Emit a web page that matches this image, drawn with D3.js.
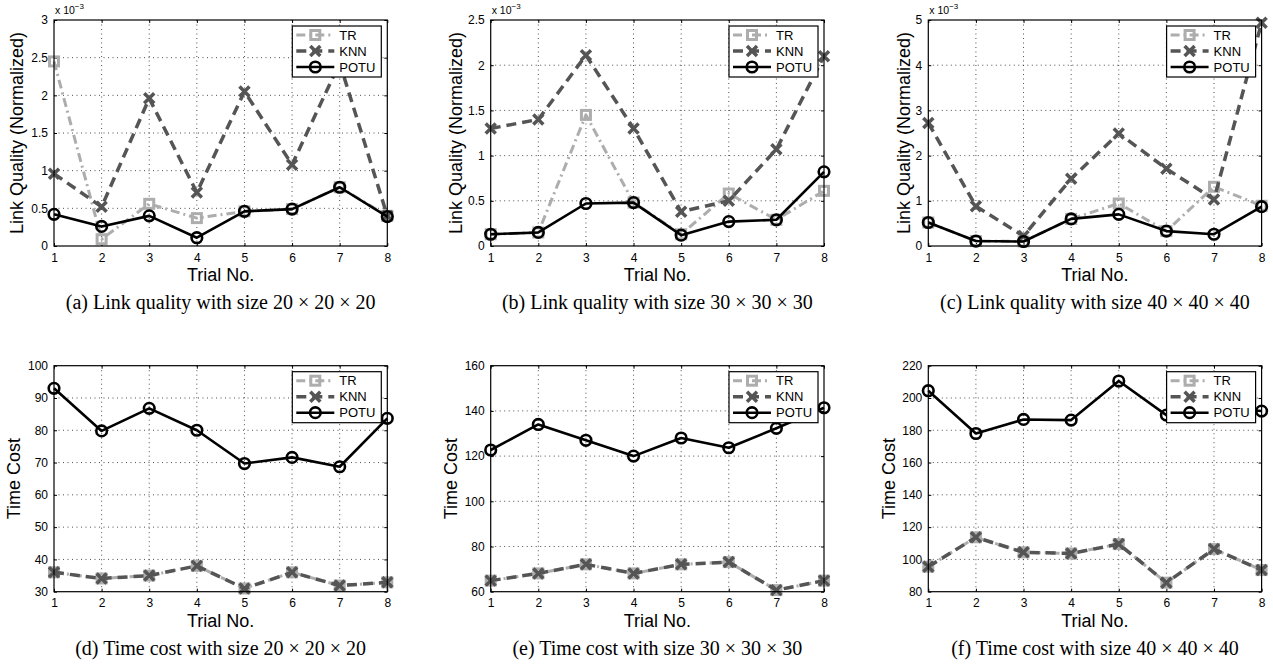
<!DOCTYPE html>
<html>
<head>
<meta charset="utf-8">
<script src="https://cdn.jsdelivr.net/npm/d3@7"></script>
<style>
  body { margin: 0; background: #fff; }
  svg text { font-family: "Liberation Sans", Arial, Helvetica, sans-serif; fill: #000; }
</style>
</head>
<body>
<div id="chart"></div>
<script>
// x values shared by every panel
const trials = [1, 2, 3, 4, 5, 6, 7, 8];
const seriesNames = ['TR', 'KNN', 'POTU'];

// Link quality (normalized), values in units of 1e-3
const lq20TR   = [2.45, 0.09, 0.56, 0.37, 0.46, 0.49, 0.78, 0.40];
const lq20KNN  = [0.96, 0.52, 1.96, 0.71, 2.05, 1.08, 2.43, 0.40];
const lq20POTU = [0.42, 0.26, 0.40, 0.11, 0.46, 0.49, 0.78, 0.39];

const lq30TR   = [0.13, 0.15, 1.45, 0.48, 0.13, 0.58, 0.29, 0.61];
const lq30KNN  = [1.30, 1.40, 2.11, 1.30, 0.38, 0.50, 1.07, 2.10];
const lq30POTU = [0.13, 0.15, 0.47, 0.48, 0.12, 0.27, 0.29, 0.82];

const lq40TR   = [0.52, 0.11, 0.10, 0.60, 0.94, 0.33, 1.31, 0.89];
const lq40KNN  = [2.72, 0.88, 0.22, 1.49, 2.49, 1.71, 1.03, 4.94];
const lq40POTU = [0.52, 0.11, 0.10, 0.60, 0.70, 0.33, 0.26, 0.87];

// Time cost
const tc20TR   = [36, 34.1, 35, 38, 31, 36, 31.9, 32.9];
const tc20KNN  = [36, 34.1, 35, 38, 31, 36, 31.9, 32.9];
const tc20POTU = [93, 79.8, 86.8, 80, 69.7, 71.6, 68.7, 83.7];

const tc30TR   = [64.9, 68.1, 72.1, 68.1, 72.1, 73.1, 60.7, 64.9];
const tc30KNN  = [64.9, 68.1, 72.1, 68.1, 72.1, 73.1, 60.7, 64.9];
const tc30POTU = [122.7, 134, 127, 120, 128, 123.7, 132.3, 141.4];

const tc40TR   = [95.5, 113.7, 104.4, 103.7, 109.5, 85.6, 106.4, 93.4];
const tc40KNN  = [95.5, 113.7, 104.4, 103.7, 109.5, 85.6, 106.4, 93.4];
const tc40POTU = [204.5, 178, 186.7, 186.3, 210.5, 189.4, 194, 191.9];

// y tick labels per panel
const lq20Ticks = [0, 0.5, 1, 1.5, 2, 2.5, 3];
const lq30Ticks = [0, 0.5, 1, 1.5, 2, 2.5];
const lq40Ticks = [0, 1, 2, 3, 4, 5];
const tc20Ticks = [30, 40, 50, 60, 70, 80, 90, 100];
const tc30Ticks = [60, 80, 100, 120, 140, 160];
const tc40Ticks = [80, 100, 120, 140, 160, 180, 200, 220];

const captions = [
    '(a) Link quality with size 20 \u00d7 20 \u00d7 20',
    '(b) Link quality with size 30 \u00d7 30 \u00d7 30',
    '(c) Link quality with size 40 \u00d7 40 \u00d7 40',
    '(d) Time cost with size 20 \u00d7 20 \u00d7 20',
    '(e) Time cost with size 30 \u00d7 30 \u00d7 30',
    '(f) Time cost with size 40 \u00d7 40 \u00d7 40'
];

const panels = [
    {series: [lq20TR, lq20KNN, lq20POTU], ticks: lq20Ticks, label: 'Link Quality (Normalized)', exp: true, labelGap: 37},
    {series: [lq30TR, lq30KNN, lq30POTU], ticks: lq30Ticks, label: 'Link Quality (Normalized)', exp: true, labelGap: 35},
    {series: [lq40TR, lq40KNN, lq40POTU], ticks: lq40Ticks, label: 'Link Quality (Normalized)', exp: true, labelGap: 25},
    {series: [tc20TR, tc20KNN, tc20POTU], ticks: tc20Ticks, label: 'Time Cost', exp: false, labelGap: 40},
    {series: [tc30TR, tc30KNN, tc30POTU], ticks: tc30Ticks, label: 'Time Cost', exp: false, labelGap: 40},
    {series: [tc40TR, tc40KNN, tc40POTU], ticks: tc40Ticks, label: 'Time Cost', exp: false, labelGap: 40}
];

// layout
const W = 1273, H = 665;
const colLeft = [54, 490.7, 928.3];
const rowTop = [20, 365.7];
const plotW = 333.3, plotH = 226;

// series styles (MATLAB-ish)
const styles = [
    {color: '#adadad', width: 3, dash: '9,4,2,4', marker: 'square'},
    {color: '#555555', width: 3.5, dash: '10,6', marker: 'cross'},
    {color: '#000000', width: 2.6, dash: null, marker: 'circle'}
];

const svg = d3.select('#chart').append('svg')
    .attr('width', W)
    .attr('height', H);

svg.append('rect').attr('width', W).attr('height', H).attr('fill', '#fff');

function drawMarker(g, type, x, y, st) {
    if (type === 'square') {
        g.append('rect')
            .attr('x', x - 4.5).attr('y', y - 4.5)
            .attr('width', 9).attr('height', 9)
            .attr('fill', 'none')
            .attr('stroke', st.color)
            .attr('stroke-width', 3);
    } else if (type === 'cross') {
        const s = 5;
        g.append('path')
            .attr('d', `M${x - s},${y - s}L${x + s},${y + s}M${x - s},${y + s}L${x + s},${y - s}`)
            .attr('stroke', st.color)
            .attr('stroke-width', 3.5)
            .attr('fill', 'none');
    } else {
        g.append('circle')
            .attr('cx', x).attr('cy', y).attr('r', 5.3)
            .attr('fill', 'none')
            .attr('stroke', st.color)
            .attr('stroke-width', 2.6);
    }
}

panels.forEach((p, i) => {
    const left = colLeft[i % 3];
    const top = rowTop[Math.floor(i / 3)];

    const x = d3.scaleLinear().domain([1, 8]).range([0, plotW]);
    const y = d3.scaleLinear().domain(d3.extent(p.ticks)).range([plotH, 0]);

    const g = svg.append('g').attr('transform', `translate(${left},${top})`);

    // dotted grid
    g.append('g')
        .selectAll('line')
        .data(trials.slice(1, -1))
        .join('line')
        .attr('x1', d => x(d)).attr('x2', d => x(d))
        .attr('y1', 0).attr('y2', plotH)
        .attr('stroke', '#222').attr('stroke-width', 0.8)
        .attr('stroke-dasharray', '1,3.5');
    g.append('g')
        .selectAll('line')
        .data(p.ticks.slice(1, -1))
        .join('line')
        .attr('y1', d => y(d)).attr('y2', d => y(d))
        .attr('x1', 0).attr('x2', plotW)
        .attr('stroke', '#222').attr('stroke-width', 0.8)
        .attr('stroke-dasharray', '1,3.5');

    // axes with inward ticks
    const fmt = d => String(d);
    const xAxis = d3.axisBottom(x).tickValues(trials).tickFormat(fmt).tickSize(-3).tickPadding(7).tickSizeOuter(0);
    const yAxis = d3.axisLeft(y).tickValues(p.ticks).tickFormat(fmt).tickSize(-3).tickPadding(6).tickSizeOuter(0);
    const xTop = d3.axisTop(x).tickValues(trials).tickSize(-3).tickFormat('').tickSizeOuter(0);
    const yRight = d3.axisRight(y).tickValues(p.ticks).tickSize(-3).tickFormat('').tickSizeOuter(0);

    [
        g.append('g').attr('transform', `translate(0,${plotH})`).call(xAxis),
        g.append('g').call(yAxis),
        g.append('g').call(xTop),
        g.append('g').attr('transform', `translate(${plotW},0)`).call(yRight)
    ].forEach(a => {
        a.select('.domain').remove();
        a.selectAll('.tick line').attr('stroke', '#000').attr('stroke-width', 1);
        a.selectAll('.tick text').attr('font-size', 12).attr('fill', '#000')
            .style('font-family', '"Liberation Sans", Arial, sans-serif');
    });

    // lines and markers
    const line = d3.line().x((d, k) => x(trials[k])).y(d => y(d));
    p.series.forEach((vals, s) => {
        const st = styles[s];
        g.append('path')
            .datum(vals)
            .attr('d', line)
            .attr('fill', 'none')
            .attr('stroke', st.color)
            .attr('stroke-width', st.width)
            .attr('stroke-dasharray', st.dash)
            .attr('stroke-linejoin', 'round');
        const mg = g.append('g');
        vals.forEach((v, k) => drawMarker(mg, st.marker, x(trials[k]), y(v), st));
    });

    // axes frame
    g.append('rect')
        .attr('width', plotW).attr('height', plotH)
        .attr('fill', 'none').attr('stroke', '#000').attr('stroke-width', 1.2);

    // legend
    const lw = 89, lh = 51;
    const lg = g.append('g').attr('transform', `translate(${plotW - 6 - lw},6)`);
    lg.append('rect').attr('width', lw).attr('height', lh)
        .attr('fill', '#fff').attr('stroke', '#000').attr('stroke-width', 1.2);
    seriesNames.forEach((name, s) => {
        const st = styles[s];
        const ly = 9 + s * 16;
        lg.append('line')
            .attr('x1', 4).attr('x2', 42).attr('y1', ly).attr('y2', ly)
            .attr('stroke', st.color).attr('stroke-width', st.width)
            .attr('stroke-dasharray', st.dash);
        drawMarker(lg, st.marker, 23, ly, st);
        lg.append('text')
            .attr('x', 47).attr('y', ly).attr('dy', '0.36em')
            .attr('font-size', 13)
            .text(name);
    });

    // axis labels
    g.append('text')
        .attr('x', plotW / 2).attr('y', plotH + 35)
        .attr('text-anchor', 'middle')
        .attr('font-size', 18)
        .text('Trial No.');
    g.append('text')
        .attr('transform', `translate(${-p.labelGap},${plotH / 2}) rotate(-90)`)
        .attr('text-anchor', 'middle')
        .attr('dy', '0.35em')
        .attr('font-size', 18)
        .text(p.label);

    if (p.exp) {
        const t = g.append('text').attr('x', 1).attr('y', -6).attr('font-size', 10.5);
        t.append('tspan').text('x 10');
        t.append('tspan').attr('dy', -5).attr('font-size', 8).text('\u22123');
    }

    // caption
    svg.append('text')
        .attr('x', left + plotW / 2).attr('y', top + plotH + 63)
        .attr('text-anchor', 'middle')
        .attr('font-size', 20)
        .style('font-family', '"Liberation Serif", "Times New Roman", serif')
        .text(captions[i]);
});
</script>
</body>
</html>
